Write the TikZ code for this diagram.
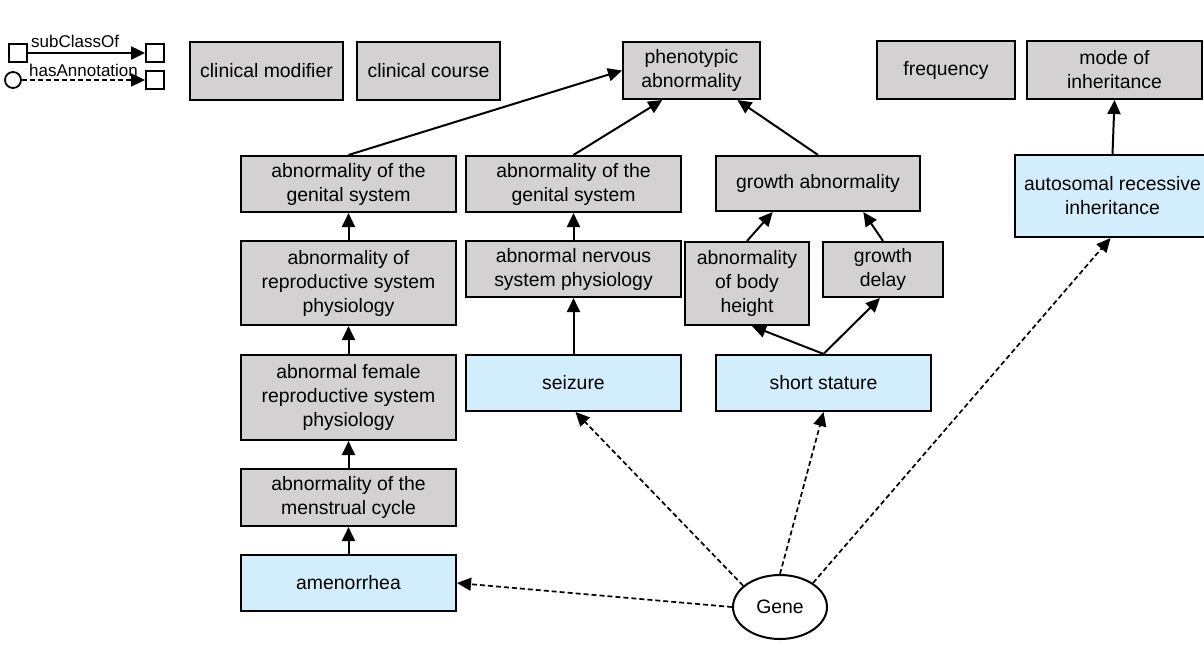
\documentclass[tikz,border=0pt]{standalone}
\usepackage{fontspec}
\setmainfont{Liberation Sans}
\usetikzlibrary{arrows.meta,calc,shapes.geometric}
\definecolor{boxgray}{RGB}{211,209,210}
\definecolor{boxblue}{RGB}{210,238,252}
\begin{document}
\begin{tikzpicture}[x=1pt,y=-1pt,
  every node/.style={font=\fontsize{19.4}{24}\selectfont},
  cls/.style={draw=black, line width=2.1pt, fill=boxgray, align=center, inner sep=0pt},
  ann/.style={cls, fill=boxblue},
  sub/.style={-{Triangle[length=14pt,width=13pt]}, line width=2pt},
  has/.style={-{Triangle[length=14pt,width=13pt]}, line width=1.7pt, dash pattern=on 5pt off 3pt},
  legsq/.style={draw=black, line width=1.8pt, minimum size=18pt, inner sep=0pt},
  legtxt/.style={font=\fontsize{17}{20}\selectfont, anchor=base west, inner sep=0pt},
]
\clip (0,0) rectangle (1204,648);

% legend
\node[legsq] (la) at (18,53) {};
\node[legsq] (lb) at (155,53) {};
\node[draw=black, line width=1.8pt, circle, minimum size=16pt, inner sep=0pt] (lc) at (13,80) {};
\node[legsq] (ld) at (155,80) {};
\draw[sub] (la) -- (lb);
\draw[has] (lc) -- (ld);
\node[legtxt] (lsub) at (31,47) {subClassOf};
\node[legtxt] (lhas) at (29,76) {hasAnnotation};

% top row
\node[cls, minimum width=153pt, minimum height=58pt] (cmod) at (266.5,71) {clinical modifier};
\node[cls, minimum width=143pt, minimum height=58pt] (ccourse) at (428.5,71) {clinical course};
\node[cls, minimum width=137pt, minimum height=57pt] (pheno) at (691.5,70.5) {phenotypic\\abnormality};
\node[cls, minimum width=138pt, minimum height=58pt] (freq) at (946,70) {frequency};
\node[cls, minimum width=175pt, minimum height=58pt] (mode) at (1114.5,70) {mode of\\inheritance};

% genital branch
\node[cls, minimum width=215pt, minimum height=56pt] (g1) at (348.5,184) {abnormality of the\\genital system};
\node[cls, minimum width=215pt, minimum height=84pt] (repro) at (348.5,283) {abnormality of\\reproductive system\\physiology};
\node[cls, minimum width=215pt, minimum height=85pt] (female) at (348.5,397.5) {abnormal female\\reproductive system\\physiology};
\node[cls, minimum width=215pt, minimum height=57pt] (mens) at (348.5,497.5) {abnormality of the\\menstrual cycle};
\node[ann, minimum width=215pt, minimum height=56pt] (amen) at (348.5,583) {amenorrhea};

% nervous branch
\node[cls, minimum width=215pt, minimum height=56pt] (g2) at (573.5,184) {abnormality of the\\genital system};
\node[cls, minimum width=215pt, minimum height=56pt] (nerv) at (573.5,269) {abnormal nervous\\system physiology};
\node[ann, minimum width=215pt, minimum height=56pt] (seiz) at (573.5,383) {seizure};

% growth branch
\node[cls, minimum width=204pt, minimum height=55pt] (growth) at (818,183.5) {growth abnormality};
\node[cls, minimum width=124pt, minimum height=83pt] (body) at (747,283.5) {abnormality\\of body\\height};
\node[cls, minimum width=120pt, minimum height=55pt] (delay) at (883,269.5) {growth\\delay};
\node[ann, minimum width=215pt, minimum height=56pt] (short) at (823.5,383) {short stature};

% inheritance
\node[ann, minimum width=195pt, minimum height=82pt] (auto) at (1112.5,196) {autosomal recessive\\inheritance};

% gene
\node[draw=black, line width=2pt, ellipse, fill=white, minimum width=94pt, minimum height=64pt, inner sep=0pt] (gene) at (780,607) {Gene};

% subclass links
\draw[sub] (g1.north) -- (pheno.west);
\draw[sub] (g2.north) -- ($(pheno.south west)!0.29!(pheno.south east)$);
\draw[sub] (growth.north) -- ($(pheno.south west)!0.83!(pheno.south east)$);
\draw[sub] (repro.north) -- (g1.south);
\draw[sub] (female.north) -- (repro.south);
\draw[sub] (mens.north) -- (female.south);
\draw[sub] (amen.north) -- (mens.south);
\draw[sub] (nerv.north) -- (g2.south);
\draw[sub] (seiz.north) -- (nerv.south);
\draw[sub] (body.north) -- ($(growth.south west)!0.28!(growth.south east)$);
\draw[sub] (delay.north) -- ($(growth.south west)!0.72!(growth.south east)$);
\draw[sub] (short.north) -- ($(body.south)+(5,0)$);
\draw[sub] (short.north) -- ($(delay.south)+(-3,0)$);
\draw[sub] (auto.north) -- (mode.south);

% annotation links
\draw[has] (gene.west) -- (amen.east);
\draw[has] (gene.150) -- ($(seiz.south)+(2,0)$);
\draw[has] (gene.north) -- (short.south);
\draw[has] (gene.36) -- ($(auto.south)+(-2,0)$);
\end{tikzpicture}
\end{document}
